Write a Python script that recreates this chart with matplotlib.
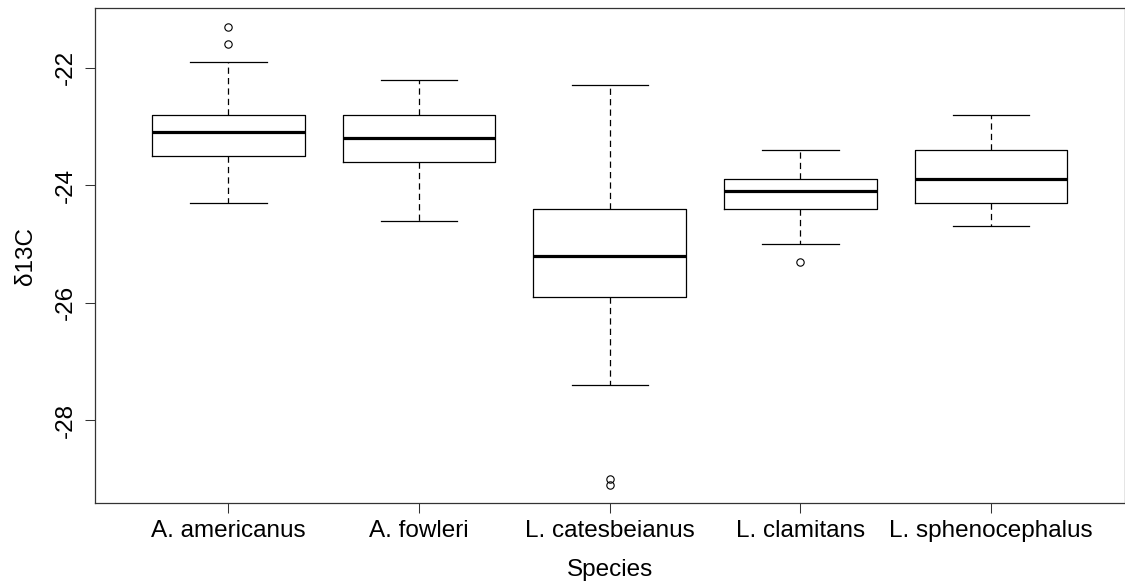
import matplotlib.pyplot as plt

plt.rcParams['font.family'] = ['Liberation Sans', 'DejaVu Sans']
plt.rcParams['lines.scale_dashes'] = False

species = ["A. americanus", "A. fowleri", "L. catesbeianus", "L. clamitans", "L. sphenocephalus"]
whislo = [-24.3, -24.6, -27.4, -25.0, -24.7]
q1 = [-23.5, -23.6, -25.9, -24.4, -24.3]
med = [-23.1, -23.2, -25.2, -24.1, -23.9]
q3 = [-22.8, -22.8, -24.4, -23.9, -23.4]
whishi = [-21.9, -22.2, -22.3, -23.4, -22.8]
fliers = [[-21.3, -21.6], [], [-29.0, -29.1], [-25.3], []]

stats = []
for i in range(len(species)):
    stats.append(dict(whislo=whislo[i], q1=q1[i], med=med[i], q3=q3[i],
                      whishi=whishi[i], fliers=fliers[i], label=species[i]))

fig = plt.figure(figsize=(11.25, 5.86), dpi=100)
ax = fig.add_axes([0.0844, 0.1411, 0.9152, 0.8447])

ax.bxp(stats, positions=range(1, len(species) + 1), widths=0.8, capwidths=0.4,
       boxprops=dict(color='black', linewidth=0.9),
       medianprops=dict(color='black', linewidth=2.3),
       whiskerprops=dict(color='black', linewidth=0.9, linestyle=(0, (4.5, 3))),
       capprops=dict(color='black', linewidth=0.9),
       flierprops=dict(marker='o', markerfacecolor='none', markeredgecolor='black',
                       markersize=5.3, markeredgewidth=0.8))

allv = whislo + whishi + [v for f in fliers for v in f]
lo, hi = min(allv), max(allv)
pad = (hi - lo) * 0.04
ax.set_ylim(lo - pad, hi + pad)
ax.set_xlim(0.3, len(species) + 0.7)

ax.set_yticks([-22, -24, -26, -28])
ax.set_yticklabels(["-22", "-24", "-26", "-28"], rotation=90, va='center')
ax.set_xticks(range(1, len(species) + 1))
ax.set_xticklabels(species)
ax.tick_params(axis='both', length=7.2, width=0.75, labelsize=17.5, color='#333333')
ax.tick_params(axis='y', pad=6)
ax.tick_params(axis='x', pad=5)

for s in ax.spines.values():
    s.set_linewidth(0.9)
    s.set_color('#333333')

ax.set_ylabel("δ13C", fontsize=17.5)
ax.yaxis.set_label_coords(-0.056, 0.5)
ax.set_xlabel("Species", fontsize=17.5)
ax.xaxis.set_label_coords(0.5, -0.112)

fig.savefig("out.png", dpi=100)
